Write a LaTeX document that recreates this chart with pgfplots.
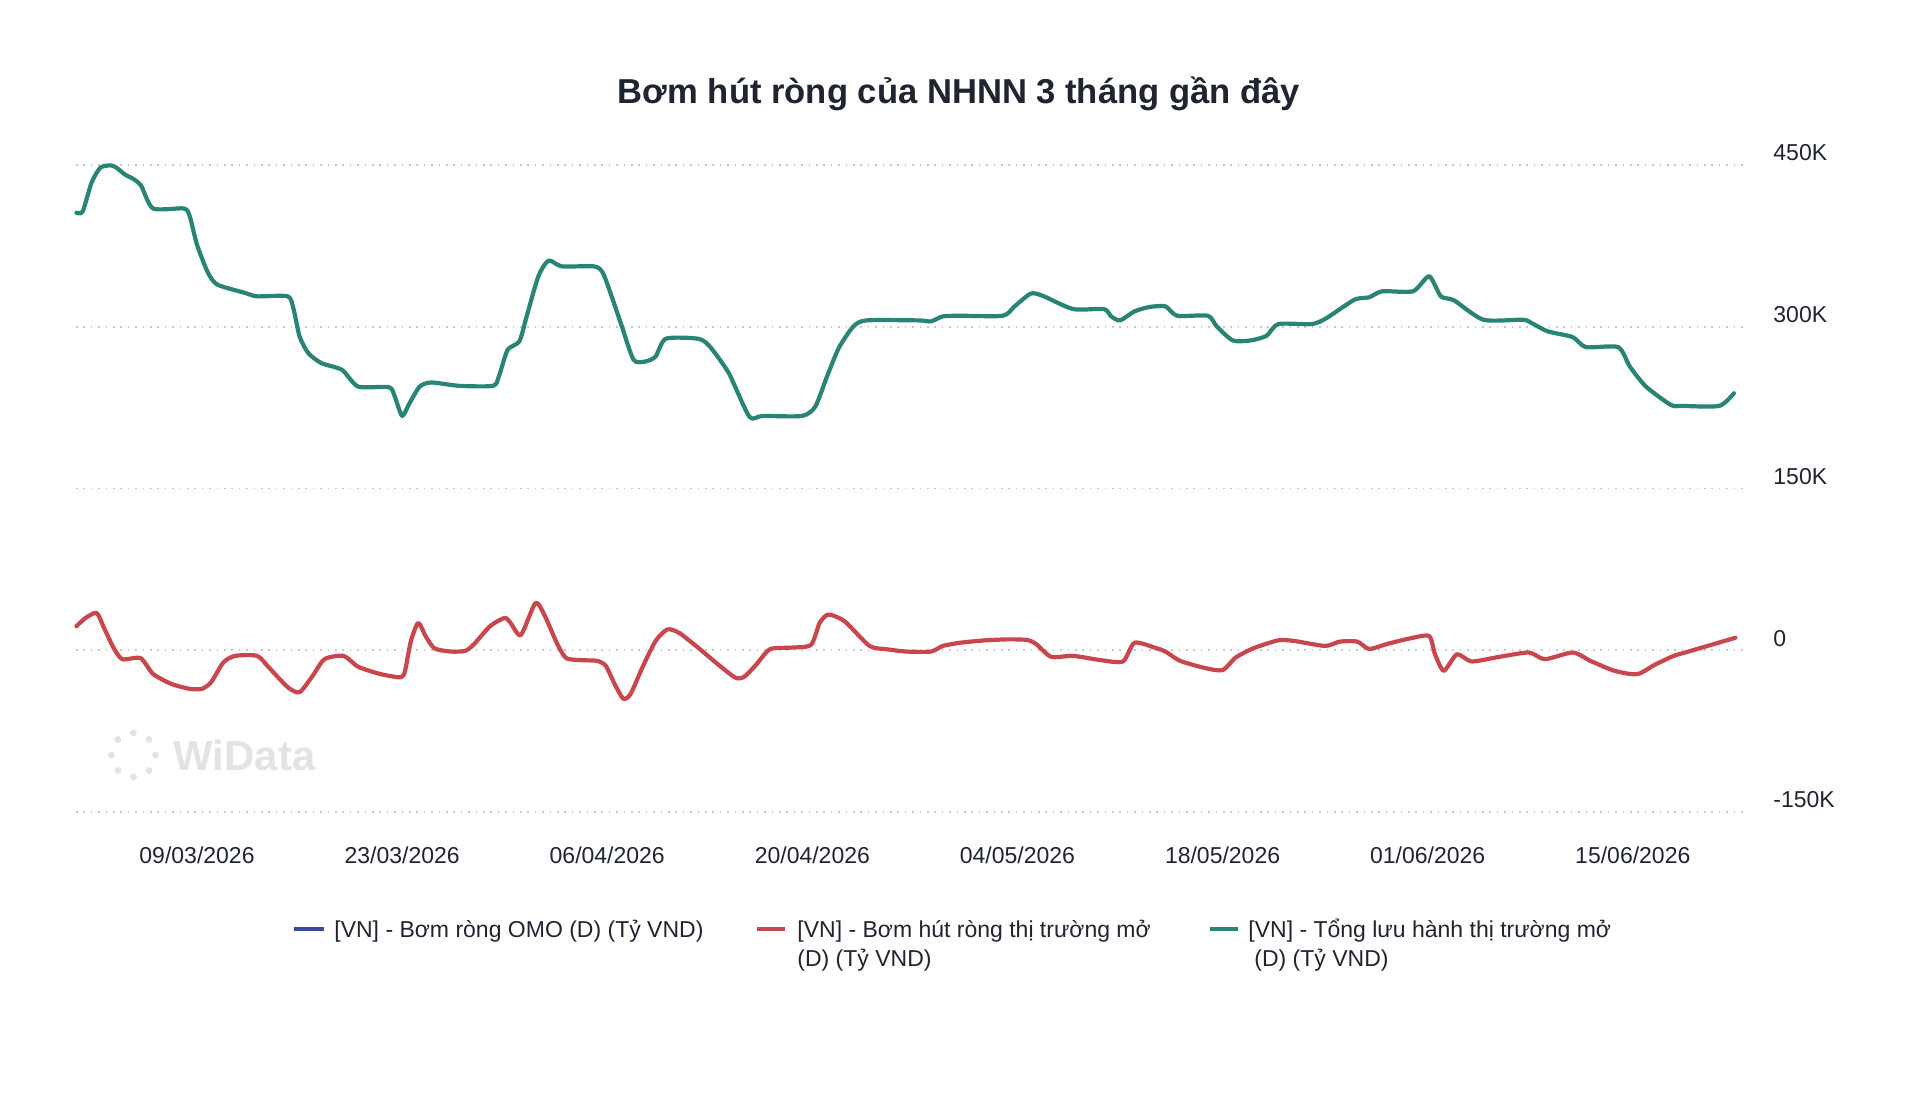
\documentclass[border=0pt]{standalone}
\usepackage{pgfplots}
\pgfplotsset{compat=1.18}
\usepackage{fontspec}
\setmainfont{Liberation Sans}
\definecolor{cgreen}{HTML}{2A8476}
\definecolor{cred}{HTML}{C8474D}
\definecolor{cblue}{HTML}{3C4A9A}
\definecolor{ctext}{HTML}{1F2430}
\definecolor{cgrid}{HTML}{C8C8C8}
\newcommand{\fs}{\fontsize{11.5pt}{14.5pt}\selectfont}

\pgfplotstableread{
x y
-8.23 405.7
-7.8 407
-7.2 433.6
-6.6 447.5
-5.9 449.7
-5.5 447.5
-4.9 441
-4.3 436.7
-3.8 430.5
-3.0 409.7
-0.9 409.7
-0.5 402.6
0 376
0.75 350
1.4 339
3.3 331.3
4.1 328.2
6.2 328.2
6.6 315.8
7.0 291
7.6 275.5
8.5 266.2
9.9 260
11.0 244.5
13.1 244
13.5 235.2
14.0 217.3
14.5 229
15.2 244.5
16.0 248.3
17.9 245.2
20.2 245.2
20.6 253.8
21.2 278.6
22.0 286.4
22.5 309.6
23.3 346.8
24.0 361.4
24.9 356
27.1 356
27.7 350
28.3 328.2
29.0 300.3
29.8 269.3
30.6 267.8
31.3 272.4
32.0 288.9
34.2 288.9
35.0 281.7
36.3 256.9
37.7 216.6
38.6 217.3
41.3 217.3
42.2 226
43.0 253.8
43.8 280.2
44.8 300.3
45.7 305.9
49.2 305.9
50.1 305
50.9 309.6
52.1 310.2
55.0 310.2
55.8 318.9
56.9 330.7
57.7 328.8
59.8 316.4
61.9 316.4
62.4 309.6
63.0 305.9
64.0 314.3
65.0 318.3
66.1 318.9
66.9 310.2
69.0 310.2
69.6 300.3
70.7 287.3
71.9 287.3
73.0 291.6
73.8 302.5
76.1 302.5
77.1 308.1
79.0 325.1
80.0 327.3
80.9 332.9
83.0 332.9
84.1 346.8
84.9 328.2
85.8 324.5
87.8 306.5
90.5 306.5
91.1 303.4
92.2 295.7
93.9 290.4
94.8 281.1
97.0 281.1
97.8 263.1
98.9 244.5
100.6 227.5
101.4 226.6
103.9 226.6
104.9 238.3
}\tonglh

\pgfplotstableread{
x y
-8.23 22.3
-7.6 30
-6.85 34.6
-6.35 20.8
-5.7 2.4
-5.1 -8.3
-3.85 -7.3
-3.0 -22
-1.75 -31.2
-0.5 -35.8
0.33 -35.8
0.96 -29.7
1.8 -11.3
2.6 -5.2
4.1 -5.2
4.9 -15.9
6.2 -34.3
7.0 -38.9
7.9 -23.6
8.7 -8.3
10.0 -5.2
11.0 -15.3
12.5 -22
13.9 -25.1
14.2 -19
14.6 8.6
15.1 25.4
15.6 13.2
16.2 1.8
17.3 -1.2
18.3 -0.6
18.9 5.5
20.0 22.3
21.0 30
21.4 25.4
22.1 14.1
23.1 43.8
23.7 33.1
24.6 5.5
25.2 -7.3
26.2 -9.2
27.3 -9.8
27.9 -14.4
28.5 -31.2
29.1 -45
29.6 -40.4
30.4 -15.9
31.3 8.6
32.1 19.3
32.9 16.2
34.2 2.4
35.4 -11.3
36.7 -25.1
37.3 -25.1
38.1 -14.4
39.1 0.9
40.5 2.4
41.9 4.9
42.5 25.4
43.1 33.1
44.2 26.9
45.9 4
47.1 0.9
48.4 -1.2
50.1 -1.2
50.9 4
52.1 7
53.8 9.2
55.4 10.1
56.7 9.5
57.3 5.5
58.3 -6.1
59.8 -5.2
61.7 -9.2
63.2 -10.4
64.0 7
65.5 1.8
66.1 -1.2
67.1 -9.8
68.8 -16.5
70.0 -18.4
70.9 -6.7
72.1 1.8
73.8 9.2
74.9 8.6
77.0 4
78.0 8
79.2 8
80.0 1.2
81.3 6.1
82.8 11
84.1 13.2
84.5 -3.7
85.1 -19
86.0 -3.7
87.0 -10.4
88.9 -6.1
90.9 -2.1
92.0 -8.3
93.9 -2.1
95.1 -9.8
96.6 -18.4
97.8 -22
98.5 -21.4
99.5 -13.5
100.8 -5.2
101.8 -1.2
105.0 11.6
}\bomhut

\begin{document}
\begin{tikzpicture}
\useasboundingbox (0,0) rectangle (960pt,549pt);

% title
\node[anchor=base, inner sep=0, text=ctext, font=\fontsize{17.3pt}{20pt}\selectfont\bfseries]
  at (479.5pt,497.2pt) {Bơm hút ròng của NHNN 3 tháng gần đây};

% watermark
\foreach \a in {0,45,...,315}
  \fill[gray!22] ([shift={(\a:11pt)}]66.75pt,171.5pt) circle (1.7pt);
\node[anchor=west, inner sep=0, text=gray!22, font=\fontsize{21pt}{24pt}\selectfont\bfseries]
  at (86.5pt,171.5pt) {WiData};

\begin{axis}[
  at={(38pt,143pt)}, anchor=south west, scale only axis,
  width=834.5pt, height=323.5pt,
  xmin=-8.26, xmax=105.66, ymin=-150, ymax=450,
  axis line style={draw=none},
  major tick length=0pt,
  ymajorgrids,
  grid style={cgrid, line width=0.8pt, dash pattern=on 0.8pt off 2.9pt},
  xtick={0,14,28,42,56,70,84,98},
  xticklabels={09/03/2026,23/03/2026,06/04/2026,20/04/2026,04/05/2026,18/05/2026,01/06/2026,15/06/2026},
  xticklabel style={anchor=base, yshift=-25.5pt, font=\fs, text=ctext},
  ytick={-150,0,150,300,450},
  yticklabels={-150K,0,150K,300K,450K},
  yticklabel pos=right,
  yticklabel style={anchor=west, inner sep=0pt, xshift=14pt, yshift=6pt, font=\fs, text=ctext},
  clip=false,
]
\addplot[cred, line width=2.1pt, smooth, tension=0.4, line join=round, line cap=round] table[x=x,y=y] {\bomhut};
\addplot[cgreen, line width=2.1pt, smooth, tension=0.4, line join=round, line cap=round] table[x=x,y=y] {\tonglh};
\end{axis}

% legend
\draw[cblue, line width=2.2pt] (147pt,84.5pt) -- (162pt,84.5pt);
\node[anchor=base west, inner sep=0, text=ctext, font=\fs] at (167pt,80.5pt) {[VN] - Bơm ròng OMO (D) (Tỷ VND)};
\draw[cred, line width=2.2pt] (378.5pt,84.5pt) -- (392.5pt,84.5pt);
\node[anchor=base west, inner sep=0, text=ctext, font=\fs] at (398.5pt,80.5pt) {[VN] - Bơm hút ròng thị trường mở};
\node[anchor=base west, inner sep=0, text=ctext, font=\fs] at (398.5pt,66pt) {(D) (Tỷ VND)};
\draw[cgreen, line width=2.2pt] (605pt,84.5pt) -- (619pt,84.5pt);
\node[anchor=base west, inner sep=0, text=ctext, font=\fs] at (624pt,80.5pt) {[VN] - Tổng lưu hành thị trường mở};
\node[anchor=base west, inner sep=0, text=ctext, font=\fs] at (627pt,66pt) {(D) (Tỷ VND)};
\end{tikzpicture}
\end{document}
